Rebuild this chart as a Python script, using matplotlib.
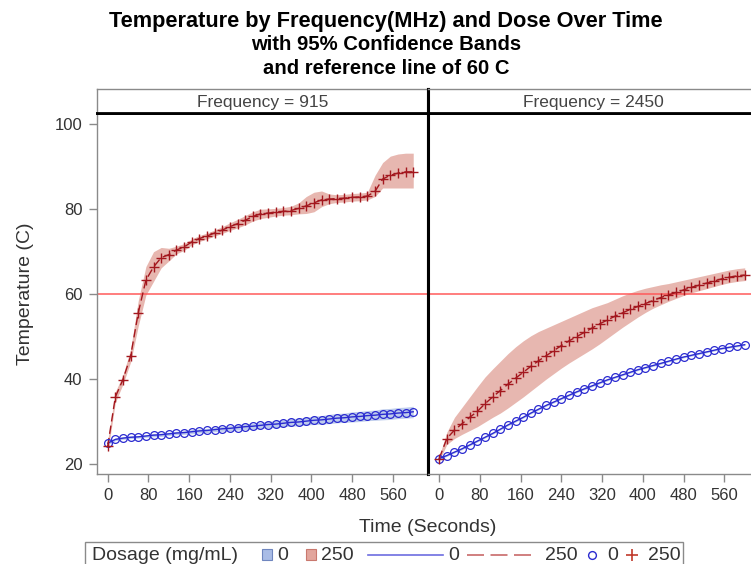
import numpy as np
import matplotlib
matplotlib.use("Agg")
import matplotlib.pyplot as plt
from matplotlib.patches import Rectangle
from matplotlib.lines import Line2D

plt.rcParams['font.family'] = ['Liberation Sans', 'DejaVu Sans']

# ---- data -------------------------------------------------------------
time_s = np.arange(0, 615, 15)          # sampling times (seconds)
frequencies = [915, 2450]
dose_labels = ["0", "250"]
ref_temp = 60

# Frequency 915, dose 0
t915_d0 = [24.9, 25.8, 26.1, 26.3, 26.4, 26.6, 26.8, 26.9, 27.1, 27.3, 27.4,
           27.6, 27.8, 27.9, 28.1, 28.3, 28.4, 28.6, 28.8, 28.9, 29.1, 29.3,
           29.4, 29.6, 29.8, 29.9, 30.1, 30.3, 30.4, 30.6, 30.8, 30.9, 31.1,
           31.2, 31.4, 31.5, 31.7, 31.8, 32.0, 32.1, 32.3]
lo915_d0 = [24.6, 25.5, 25.8, 26.0, 26.1, 26.3, 26.4, 26.5, 26.7, 26.9, 27.0,
            27.1, 27.3, 27.4, 27.6, 27.7, 27.8, 28.0, 28.1, 28.2, 28.4, 28.5,
            28.6, 28.8, 28.9, 29.0, 29.2, 29.3, 29.4, 29.5, 29.7, 29.8, 29.9,
            30.0, 30.2, 30.3, 30.4, 30.5, 30.7, 30.8, 30.9]
hi915_d0 = [25.2, 26.1, 26.4, 26.6, 26.7, 26.9, 27.2, 27.3, 27.5, 27.7, 27.8,
            28.1, 28.3, 28.4, 28.6, 28.9, 29.0, 29.2, 29.5, 29.6, 29.8, 30.1,
            30.2, 30.4, 30.7, 30.8, 31.0, 31.3, 31.4, 31.7, 31.9, 32.0, 32.3,
            32.4, 32.6, 32.7, 33.0, 33.1, 33.3, 33.4, 33.6]

# Frequency 915, dose 250
t915_d250 = [24.2, 35.8, 39.9, 45.4, 55.6, 63.3, 66.4, 68.6, 69.3, 70.4, 71.1,
             72.3, 73.1, 73.7, 74.4, 75.1, 75.9, 76.6, 77.4, 78.3, 78.9, 79.1,
             79.3, 79.5, 79.7, 80.2, 80.8, 81.5, 82.2, 82.4, 82.5, 82.6, 82.8,
             82.9, 83.1, 84.2, 87.1, 88.0, 88.5, 88.8, 88.8]
lo915_d250 = [22.8, 34.5, 38.8, 44.0, 52.5, 59.8, 63.0, 66.2, 67.8, 69.5, 70.3,
              71.6, 72.4, 73.0, 73.7, 74.3, 75.0, 75.6, 76.3, 77.2, 77.8, 78.1,
              78.4, 78.6, 78.7, 78.9, 79.0, 79.4, 80.6, 81.3, 81.6, 81.7, 81.9,
              82.0, 82.2, 83.0, 85.0, 85.0, 85.0, 85.0, 85.0]
hi915_d250 = [25.5, 37.0, 41.0, 47.0, 58.5, 66.5, 70.0, 71.0, 70.8, 71.3, 71.9,
              73.0, 73.8, 74.4, 75.1, 75.9, 76.8, 77.6, 78.5, 79.4, 80.0, 80.1,
              80.2, 80.4, 80.7, 81.5, 83.0, 84.0, 84.3, 83.6, 83.4, 83.5, 83.7,
              83.8, 84.0, 88.0, 91.0, 92.5, 93.0, 93.2, 93.2]

# Frequency 2450, dose 0
t2450_d0 = [21.3, 22.0, 22.8, 23.6, 24.5, 25.4, 26.3, 27.2, 28.2, 29.2, 30.1,
            31.0, 32.0, 32.9, 33.8, 34.6, 35.4, 36.2, 37.0, 37.7, 38.4, 39.1,
            39.8, 40.4, 41.0, 41.6, 42.2, 42.7, 43.2, 43.7, 44.2, 44.7, 45.2,
            45.6, 46.0, 46.4, 46.8, 47.2, 47.5, 47.8, 48.1]
lo2450_d0 = [21.1, 21.8, 22.6, 23.4, 24.3, 25.2, 26.1, 27.0, 28.0, 29.0, 29.9,
             30.8, 31.8, 32.7, 33.6, 34.4, 35.2, 36.0, 36.8, 37.5, 38.2, 38.9,
             39.6, 40.2, 40.8, 41.4, 42.0, 42.5, 43.0, 43.5, 44.0, 44.5, 45.0,
             45.4, 45.8, 46.2, 46.6, 47.0, 47.3, 47.6, 47.9]
hi2450_d0 = [21.5, 22.2, 23.0, 23.8, 24.7, 25.6, 26.5, 27.4, 28.4, 29.4, 30.3,
             31.2, 32.2, 33.1, 34.0, 34.8, 35.6, 36.4, 37.2, 37.9, 38.6, 39.3,
             40.0, 40.6, 41.2, 41.8, 42.4, 42.9, 43.4, 43.9, 44.4, 44.9, 45.4,
             45.8, 46.2, 46.6, 47.0, 47.4, 47.7, 48.0, 48.3]

# Frequency 2450, dose 250
t2450_d250 = [21.3, 26.0, 28.0, 29.5, 31.0, 32.4, 34.2, 35.8, 37.3, 38.8, 40.2,
              41.6, 43.0, 44.3, 45.5, 46.7, 47.9, 49.0, 50.0, 51.0, 52.0, 53.0,
              53.9, 54.8, 55.6, 56.4, 57.1, 57.8, 58.5, 59.2, 59.8, 60.4, 61.0,
              61.6, 62.1, 62.6, 63.1, 63.6, 64.0, 64.3, 64.5]
lo2450_d250 = [20.8, 24.6, 26.0, 27.0, 27.9, 28.8, 29.9, 31.0, 32.0, 33.2, 34.5,
               35.8, 37.2, 38.6, 40.0, 41.3, 42.6, 43.8, 44.9, 46.0, 47.1, 48.3,
               49.6, 50.9, 52.2, 53.4, 54.6, 55.7, 56.7, 57.5, 58.3, 59.0, 59.7,
               60.3, 60.8, 61.3, 61.8, 62.3, 62.7, 63.0, 63.2]
hi2450_d250 = [21.8, 27.5, 31.0, 33.4, 35.8, 38.2, 40.5, 42.4, 44.2, 46.0, 47.6,
               49.0, 50.2, 51.2, 52.0, 52.8, 53.6, 54.4, 55.2, 56.0, 56.8, 57.4,
               58.0, 58.8, 59.6, 60.3, 60.9, 61.4, 61.8, 62.2, 62.5, 62.9, 63.3,
               63.7, 64.1, 64.5, 64.9, 65.3, 65.7, 66.0, 66.2]

x_ticks = [0, 80, 160, 240, 320, 400, 480, 560]
y_ticks = [20, 40, 60, 80, 100]

panels = {
    915: {"d0": (t915_d0, lo915_d0, hi915_d0),
          "d250": (t915_d250, lo915_d250, hi915_d250)},
    2450: {"d0": (t2450_d0, lo2450_d0, hi2450_d0),
           "d250": (t2450_d250, lo2450_d250, hi2450_d250)},
}

# ---- style ------------------------------------------------------------
BLUE = "#2b2bd0"
RED = "#a3171e"
BAND_BLUE = "#a9bce6"
BAND_RED = "#e2a59c"
REF = "#ff5a5a"
GRAY = "#8a8a8a"
TXT = "#333333"

W, H = 751, 564
fig = plt.figure(figsize=(W / 100, H / 100), dpi=100)


def px_box(x0, y0, x1, y1):
    """Figure-fraction rectangle from pixel corners (top-left origin)."""
    return [x0 / W, 1 - y1 / H, (x1 - x0) / W, (y1 - y0) / H]


panel_w = 331.5
left0 = 96.5
top, bottom = 113, 474
strip_top = 89.3

axes = []
for i, freq in enumerate(frequencies):
    x0 = left0 + i * panel_w
    ax = fig.add_axes(px_box(x0, top, x0 + panel_w, bottom))
    axes.append(ax)
    d0 = panels[freq]["d0"]
    d250 = panels[freq]["d250"]

    ax.fill_between(time_s, d0[1], d0[2], color=BAND_BLUE, alpha=0.75,
                    lw=0, zorder=1)
    ax.fill_between(time_s, d250[1], d250[2], color=BAND_RED, alpha=0.8,
                    lw=0, zorder=1)
    ax.axhline(ref_temp, color=REF, lw=1.1, zorder=2)
    ax.plot(time_s, d0[0], color=BLUE, lw=1.0, zorder=3)
    ax.plot(time_s, d250[0], color=RED, lw=1.0, dashes=(6, 3), zorder=3)
    ax.plot(time_s, d0[0], ls="none", marker="o", ms=5.6, mfc="none",
            mec=BLUE, mew=0.9, zorder=4)
    ax.plot(time_s, d250[0], ls="none", marker="+", ms=7.5, mec=RED,
            mew=1.0, zorder=5)

    ax.set_xlim(-22, 629)
    ax.set_ylim(17.65, 102.66)
    ax.set_xticks(x_ticks)
    ax.set_yticks(y_ticks)
    ax.tick_params(axis="both", direction="out", length=6, width=1,
                   color=GRAY, labelcolor=TXT, labelsize=12, pad=4)
    for s in ("left", "bottom", "right"):
        ax.spines[s].set_color(GRAY)
        ax.spines[s].set_linewidth(1)
    ax.spines["top"].set_color("black")
    ax.spines["top"].set_linewidth(2)
    if i == 0:
        ax.spines["right"].set_color("black")
        ax.spines["right"].set_linewidth(2.2)
    else:
        ax.spines["left"].set_color("black")
        ax.spines["left"].set_linewidth(2.2)
        ax.tick_params(axis="y", left=False, labelleft=False)

    # header strip
    sx = fig.add_axes(px_box(x0, strip_top, x0 + panel_w, top))
    sx.set_xticks([])
    sx.set_yticks([])
    for s in sx.spines.values():
        s.set_color(GRAY)
        s.set_linewidth(1)
    sx.spines["bottom"].set_color("black")
    sx.spines["bottom"].set_linewidth(2)
    if i == 0:
        sx.spines["right"].set_color("black")
        sx.spines["right"].set_linewidth(2.2)
    else:
        sx.spines["left"].set_color("black")
        sx.spines["left"].set_linewidth(2.2)
    sx.text(0.5, 0.45, f"Frequency = {freq}", transform=sx.transAxes,
            ha="center", va="center", fontsize=12.5, color="#444444")

axes[0].set_ylabel("Temperature (C)", fontsize=14, color=TXT, labelpad=15)

# titles
title_lines = ["Temperature by Frequency(MHz) and Dose Over Time",
               "with 95% Confidence Bands",
               "and reference line of 60 C"]
title_sizes = [15.7, 14.6, 14.6]
for line, yy, fs in zip(title_lines, [21, 45, 69], title_sizes):
    fig.text(386 / W, 1 - yy / H, line, ha="center", va="center",
             fontsize=fs, fontweight="bold", color="black")

fig.text(428 / W, 1 - 527 / H, "Time (Seconds)", ha="center", va="center",
         fontsize=14, color=TXT)

# legend
def fx(p):
    return p / W


def fy(p):
    return 1 - p / H


fig.patches.append(Rectangle((fx(85), fy(568)), fx(683) - fx(85),
                             fy(542) - fy(568), transform=fig.transFigure,
                             fill=False, ec=GRAY, lw=1))
ly = 555
lfs = 14
fig.text(fx(91.5), fy(ly), "Dosage (mg/mL)", ha="left", va="center",
         fontsize=lfs, color=TXT)
fig.patches.append(Rectangle((fx(261.5), fy(560)), fx(10), 11 / H,
                             transform=fig.transFigure, fc=BAND_BLUE,
                             ec="#6f86bf", lw=0.8))
fig.text(fx(277), fy(ly), dose_labels[0], ha="left", va="center",
         fontsize=lfs, color=TXT)
fig.patches.append(Rectangle((fx(306), fy(560)), fx(10), 11 / H,
                             transform=fig.transFigure, fc=BAND_RED,
                             ec="#c9786e", lw=0.8))
fig.text(fx(321), fy(ly), dose_labels[1], ha="left", va="center",
         fontsize=lfs, color=TXT)
fig.lines.append(Line2D([fx(368), fx(443)], [fy(ly), fy(ly)],
                        transform=fig.transFigure, color="#6d6de0", lw=1.2))
fig.text(fx(448), fy(ly), dose_labels[0], ha="left", va="center",
         fontsize=lfs, color=TXT)
fig.lines.append(Line2D([fx(467), fx(531)], [fy(ly), fy(ly)],
                        transform=fig.transFigure, color="#c86a6a", lw=1.2,
                        dashes=(10.2, 3.9)))
fig.text(fx(545), fy(ly), dose_labels[1], ha="left", va="center",
         fontsize=lfs, color=TXT)
fig.lines.append(Line2D([fx(592)], [fy(ly)], transform=fig.transFigure,
                        ls="none", marker="o", ms=5.6, mfc="none",
                        mec=BLUE, mew=1.0))
fig.text(fx(607), fy(ly), dose_labels[0], ha="left", va="center",
         fontsize=lfs, color=TXT)
fig.lines.append(Line2D([fx(632)], [fy(ly)], transform=fig.transFigure,
                        ls="none", marker="+", ms=8, mec="#c0392b",
                        mew=1.2))
fig.text(fx(648), fy(ly), dose_labels[1], ha="left", va="center",
         fontsize=lfs, color=TXT)

fig.savefig("out.png", dpi=100)
